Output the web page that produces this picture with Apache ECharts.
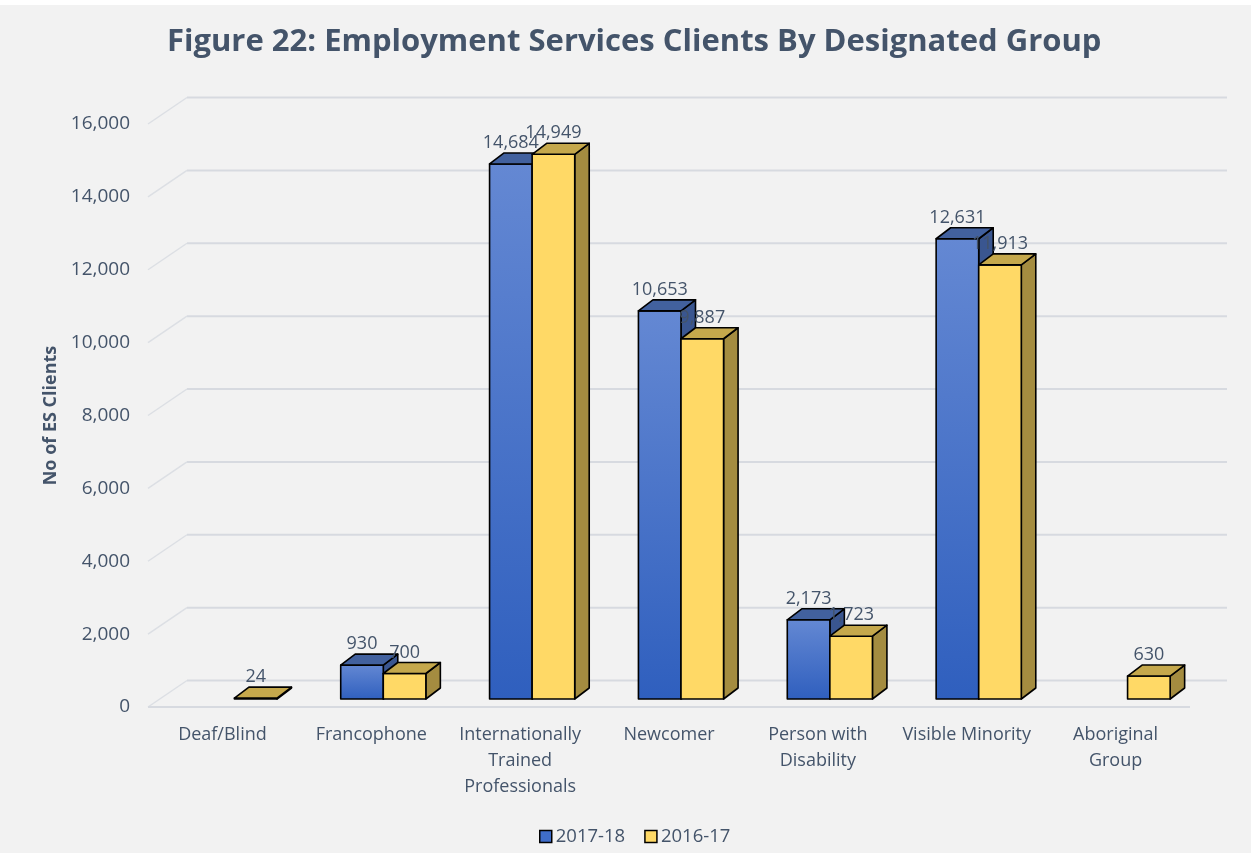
<!DOCTYPE html>
<html>
<head>
<meta charset="utf-8">
<script src="https://cdn.jsdelivr.net/npm/echarts@6/dist/echarts.min.js"></script>
<style>
html,body{margin:0;padding:0;background:#fff;}
#main{width:1251px;height:853px;}
</style>
</head>
<body>
<div id="main"></div>
<script>
/* data */
var categories = ['Deaf/Blind', 'Francophone', 'Internationally\nTrained\nProfessionals', 'Newcomer',
	'Person with\nDisability', 'Visible Minority', 'Aboriginal\nGroup'];
var clients1718 = [null, 930, 14684, 10653, 2173, 12631, null];
var clients1617 = [24, 700, 14949, 9887, 1723, 11913, 630];
var yTicks = [0, 2000, 4000, 6000, 8000, 10000, 12000, 14000, 16000];
var seriesNames = ['2017-18', '2016-17'];

// fake 3d offsets (px): bar plane, bar depth, back wall
var BAR_X = 12, BAR_Y = -8;
var DEP_X = 14.5, DEP_Y = -11;
var WALL_X = 39, WALL_Y = -26.5;
var txtColor = '#44546a';
var font = '"Open Sans", "DejaVu Sans", sans-serif';

var faces = [{
	front: new echarts.graphic.LinearGradient(0, 0, 0, 1, [{offset: 0, color: '#6488d3'}, {offset: 1, color: '#2f5fbe'}]),
	top: '#42619e',
	side: '#3a5690'
}, {
	front: '#ffd966',
	top: '#c5a84c',
	side: '#a48c40'
}];

function toPairs(arr) {
	var out = [];
	for (var i = 0; i < arr.length; i++) {
		if (arr[i] != null) out.push([i, arr[i]]);
	}
	return out;
}

function barItem(s) {
	return function(params, api) {
		var i = api.value(0), v = api.value(1);
		var band = api.size([1, 0])[0];
		var c = api.coord([i, v]), b = api.coord([i, 0]);
		var w = band * 0.286;
		var x0 = c[0] + BAR_X - w + s * w, x1 = x0 + w;
		var yt = c[1] + BAR_Y, yb = b[1] + BAR_Y;
		var line = {stroke: '#000', lineWidth: 1.6, lineJoin: 'round'};
		var f = faces[s];
		return {
			type: 'group',
			children: [{
				type: 'polygon',
				shape: {points: [[x1, yt], [x1 + DEP_X, yt + DEP_Y], [x1 + DEP_X, yb + DEP_Y], [x1, yb]]},
				style: echarts.util.extend({fill: f.side}, line)
			}, {
				type: 'rect',
				shape: {x: x0, y: yt, width: w, height: Math.max(yb - yt, 0.5)},
				style: echarts.util.extend({fill: f.front}, line)
			}, {
				type: 'polygon',
				shape: {points: [[x0, yt], [x1, yt], [x1 + DEP_X, yt + DEP_Y], [x0 + DEP_X, yt + DEP_Y]]},
				style: echarts.util.extend({fill: f.top}, line)
			}, {
				type: 'text',
				z2: 100,
				style: {
					text: v.toLocaleString('en-US'),
					x: (x0 + x1) / 2,
					y: yt + DEP_Y - 1,
					align: 'center',
					verticalAlign: 'bottom',
					fill: txtColor,
					fontSize: 18,
					fontFamily: font
				}
			}]
		};
	};
}

function wallItem(params, api) {
	var v = api.value(1);
	var band = api.size([1, 0])[0];
	var p = api.coord([0, v]);
	var left = p[0] - band / 2;
	var right = api.coord([categories.length - 1, v])[0] + band / 2;
	var y = p[1];
	var kids = [{
		type: 'polyline',
		shape: {points: [[left + WALL_X, y + WALL_Y], [right + WALL_X - 2, y + WALL_Y]]},
		style: {stroke: '#d7dae0', lineWidth: 2, fill: null}
	}, {
		type: 'line',
		shape: {x1: left, y1: y, x2: left + WALL_X, y2: y + WALL_Y},
		style: {stroke: '#dcdfe4', lineWidth: 1.5}
	}];
	if (v === 0) {
		kids.push({
			type: 'line',
			shape: {x1: left, y1: y, x2: right, y2: y},
			style: {stroke: '#d7dae0', lineWidth: 2}
		});
	}
	return {type: 'group', children: kids};
}

var myChart = echarts.init(document.getElementById('main'));
var option = {
	backgroundColor: '#f2f2f2',
	animation: false,
	graphic: [{type: 'rect', left: 0, top: 0, shape: {width: 1251, height: 5}, style: {fill: '#fff'}}],
	title: {
		text: 'Figure 22: Employment Services Clients By Designated Group',
		left: 162,
		top: 22,
		textStyle: {color: txtColor, fontSize: 31, fontWeight: 'bold', fontFamily: font}
	},
	legend: {
		bottom: 2,
		left: 534,
		itemWidth: 12,
		itemHeight: 12,
		itemGap: 19,
		textStyle: {color: txtColor, fontSize: 18.5, fontFamily: font, padding: [0, 0, 0, -1]},
		data: [
			{name: seriesNames[0], icon: 'rect', itemStyle: {color: '#3f6dc9', borderColor: '#000', borderWidth: 1.5}},
			{name: seriesNames[1], icon: 'rect', itemStyle: {color: '#ffd966', borderColor: '#000', borderWidth: 1.5}}
		]
	},
	grid: {left: 148, right: 61, top: 124, bottom: 146},
	xAxis: {
		type: 'category',
		data: categories,
		axisLine: {show: false},
		axisTick: {show: false},
		axisLabel: {interval: 0, color: txtColor, fontSize: 18, lineHeight: 26, margin: 15, fontFamily: font}
	},
	yAxis: {
		type: 'value',
		min: 0,
		max: 16000,
		interval: 2000,
		name: 'No of ES Clients',
		nameLocation: 'middle',
		nameGap: 80,
		nameTextStyle: {color: txtColor, fontSize: 18, fontWeight: 'bold', fontFamily: font},
		axisLine: {show: false},
		axisTick: {show: false},
		splitLine: {show: false},
		axisLabel: {
			color: txtColor, fontSize: 19, margin: 18, fontFamily: font,
			formatter: function(v) { return v.toLocaleString('en-US'); }
		}
	},
	series: [{
		type: 'custom',
		name: 'walls',
		z: 1,
		silent: true,
		renderItem: wallItem,
		encode: {x: 0, y: 1},
		data: yTicks.map(function(v) { return [0, v]; })
	}, {
		type: 'custom',
		name: seriesNames[0],
		z: 2,
		renderItem: barItem(0),
		encode: {x: 0, y: 1},
		itemStyle: {color: '#3f6dc9'},
		data: toPairs(clients1718)
	}, {
		type: 'custom',
		name: seriesNames[1],
		z: 3,
		renderItem: barItem(1),
		encode: {x: 0, y: 1},
		itemStyle: {color: '#ffd966'},
		data: toPairs(clients1617)
	}]
};
myChart.setOption(option);
</script>
</body>
</html>
